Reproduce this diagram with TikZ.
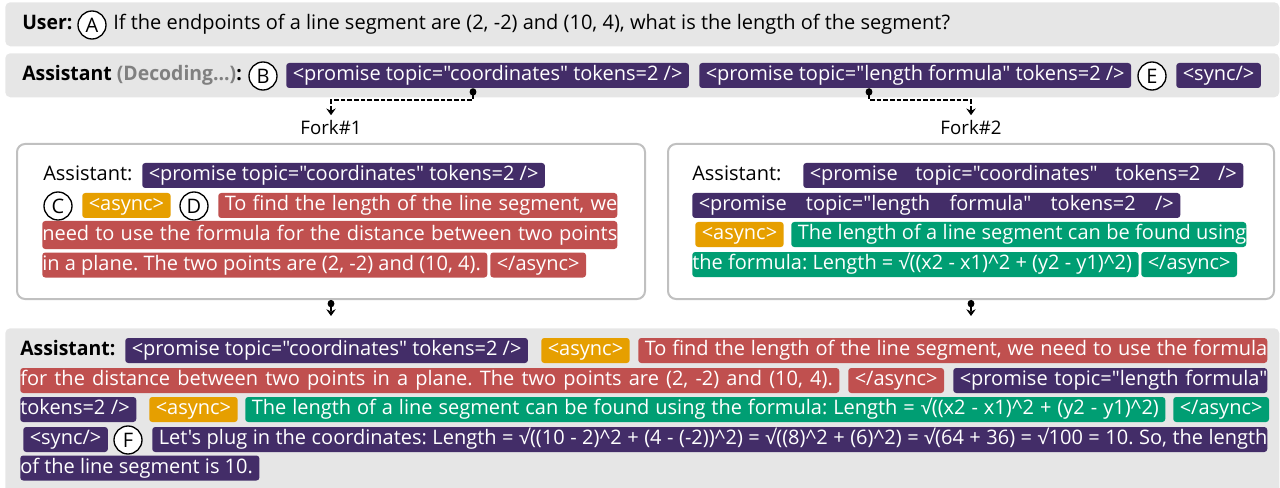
\documentclass[tikz,border=0pt]{standalone}
\usepackage{fontspec}
\usepackage{graphicx}
\setmainfont{Open Sans}[Ligatures=TeXOff]
\newfontfamily\djv{DejaVu Sans}
\usetikzlibrary{arrows.meta}
\newcommand\fs{\fontsize{15pt}{18pt}\selectfont\frenchspacing}
\newcommand\sq{\iffontchar\font"221A \symbol{"221A}\else{\djv\symbol{"221A}}\fi}
\newcommand\bl[1]{\scalebox{0.97}[1]{\bfseries #1}}
\definecolor{cpurple}{HTML}{432D68}
\definecolor{cred}{HTML}{C0504F}
\definecolor{corange}{HTML}{E69F00}
\definecolor{cgreen}{HTML}{009E73}
\definecolor{cbar}{HTML}{E6E6E6}
\definecolor{cborder}{HTML}{C0C0C0}
\definecolor{cdec}{HTML}{808080}
\tikzset{
  base/.style={inner sep=0pt, anchor=west, text height=11.5pt, text depth=3.5pt, font=\fs},
  tag/.style={base, rounded corners=2.25pt, text=white, inner xsep=4.875pt, minimum height=18.75pt},
  tagn/.style={tag, inner xsep=0pt},
  circ/.style={circle, draw=black, line width=1pt, fill=white, minimum size=21pt, inner sep=0pt, font=\fs},
  bar/.style={fill=cbar, rounded corners=3.75pt, anchor=north west, inner sep=0pt},
  panel/.style={draw=cborder, fill=white, line width=1.5pt, rounded corners=6pt, anchor=north west, inner sep=0pt},
  forklbl/.style={font=\fontsize{14pt}{17pt}\selectfont, inner sep=4pt},
  fork/.style={draw=black, line width=1.6pt, dash pattern=on 3.5pt off 1.5pt, {Circle[length=5.5pt,width=5pt]}-{Stealth[length=5pt,width=7pt]}}
}
\begin{document}
\begin{tikzpicture}[x=0.75pt, y=-0.75pt]
\useasboundingbox (0,0) rectangle (1280,488);
% background bars and panels
\node[bar, minimum width=955.5pt, minimum height=33pt] (ub) at (5,2) {};
\node[bar, minimum width=955.5pt, minimum height=33pt] (ab) at (5,53) {};
\node[bar, minimum width=955.5pt, minimum height=124pt] (bb) at (5,328) {};
\node[panel, minimum width=471pt, minimum height=116.25pt] (lb) at (16,143) {};
\node[panel, minimum width=454.5pt, minimum height=116.25pt] (rb) at (667,143) {};
% user row
\node[base] (u0) at (22,24) {\bl{User:}};
\node[circ] (cA) at (92,25) {A};
\node[base] (u1) at (113,24) {If the endpoints of a line segment are (2, -2) and (10, 4), what is the length of the segment?};
% assistant decoding row
\node[base] (a0) at (22,75) {\bl{Assistant \textcolor{cdec}{(Decoding...)}:}};
\node[circ] (cB) at (263,76) {B};
\node[tag, fill=cpurple] (p1) at (286,75.5) {<promise topic="coordinates" tokens=2 />};
\node[tag, fill=cpurple] (p2) at (699,75.5) {<promise topic="length formula" tokens=2 />};
\node[circ] (cE) at (1152,76) {E};
\node[tag, fill=cpurple] (s1) at (1176,75.5) {<sync/>};
% forks
\node[forklbl] (f1) at (331,128) {Fork\#1};
\node[forklbl] (f2) at (971,128) {Fork\#2};
\draw[fork] (p1.south -| 473,0) -- ++(0,12) -| (f1.north);
\draw[fork] (p2.south -| 869,0) -- ++(0,12) -| (f2.north);
% left panel
\node[base] (l0) at (43,175.5) {Assistant:};
\node[tag, fill=cpurple] (lp) at (142,175.5) {<promise topic="coordinates" tokens=2 />};
\node[circ] (cC) at (58,206) {C};
\node[tag, fill=corange] (la) at (82,205.5) {<async>};
\node[circ] (cD) at (194,206) {D};
\node[tagn, fill=cred] (lr1) at (218,205.5) {\hspace*{4.875pt}\makebox[294.375pt][s]{To find the length of the line segment, we}};
\node[tagn, fill=cred, minimum height=21pt] (lr2) at (42,235) {\makebox[431.25pt][s]{need to use the formula for the distance between two points}};
\node[tagn, fill=cred] (lr3) at (42,265) {in a plane. The two points are (2, -2) and (10, 4).\hspace*{4.875pt}};
\node[tag, fill=cred] (le) at (490,265) {</async>};
% right panel
\node[base] (r0) at (692,175.5) {Assistant:};
\node[tag, fill=cpurple] (rp1) at (803,175.5) {\makebox[320.25pt][s]{<promise topic="coordinates" tokens=2 />}};
\node[tag, fill=cpurple] (rp2) at (692,205.5) {\makebox[356.25pt][s]{<promise topic="length formula" tokens=2 />}};
\node[tag, fill=corange] (ra) at (695,234.5) {<async>};
\node[tagn, fill=cgreen] (rg1) at (791,234.5) {\hspace*{4.875pt}\makebox[336.375pt][s]{The length of a line segment can be found using}};
\node[tagn, fill=cgreen] (rg2) at (692,264.5) {the formula: Length = \sq((x2 - x1)\textasciicircum 2 + (y2 - y1)\textasciicircum 2)\hspace*{4.875pt}};
\node[tag, fill=cgreen] (re) at (1141,264.5) {</async>};
% panel to merged output
\draw[fork, shorten >=9pt] (lb.south -| f1.north) -- (bb.north -| f1.north);
\draw[fork, shorten >=9pt] (rb.south -| f2.north) -- (bb.north -| f2.north);
% bottom merged output
\node[base] (b0) at (20,350.5) {\bl{Assistant:}};
\node[tag, fill=cpurple] (bp1) at (125,350.5) {<promise topic="coordinates" tokens=2 />};
\node[tag, fill=corange] (ba1) at (541,350.5) {<async>};
\node[tagn, fill=cred] (br1) at (638,350.5) {\hspace*{4.875pt}\makebox[466.875pt][s]{To find the length of the line segment, we need to use the formula}};
\node[tagn, fill=cred] (br2) at (20,380.5) {\makebox[609.375pt][s]{for the distance between two points in a plane. The two points are (2, -2) and (10, 4).}\hspace*{4.875pt}};
\node[tag, fill=cred] (be1) at (848,380.5) {</async>};
\node[tagn, fill=cpurple] (bp2a) at (953,380.5) {\hspace*{4.875pt}\makebox[230.625pt][s]{<promise topic="length formula"}};
\node[tagn, fill=cpurple] (bp2b) at (20,409.5) {\makebox[82.125pt][s]{tokens=2 />}\hspace*{4.875pt}};
\node[tag, fill=corange] (ba2) at (149,409.5) {<async>};
\node[tag, fill=cgreen] (bg) at (245,409.5) {\makebox[680.25pt][s]{The length of a line segment can be found using the formula: Length = \sq((x2 - x1)\textasciicircum 2 + (y2 - y1)\textasciicircum 2)}};
\node[tag, fill=cgreen] (be2) at (1173,409.5) {</async>};
\node[tag, fill=cpurple] (bs) at (23,439.5) {<sync/>};
\node[circ] (cF) at (128,440) {F};
\node[tagn, fill=cpurple] (bl1) at (152,439.5) {\hspace*{4.875pt}\makebox[831.375pt][s]{Let's plug in the coordinates: Length = \sq((10 - 2)\textasciicircum 2 + (4 - (-2))\textasciicircum 2) = \sq((8)\textasciicircum 2 + (6)\textasciicircum 2) = \sq(64 + 36) = \sq100 = 10. So, the length}};
\node[tagn, fill=cpurple] (bl2) at (20,468) {of the line segment is 10.\hspace*{4.875pt}};
\end{tikzpicture}
\end{document}
